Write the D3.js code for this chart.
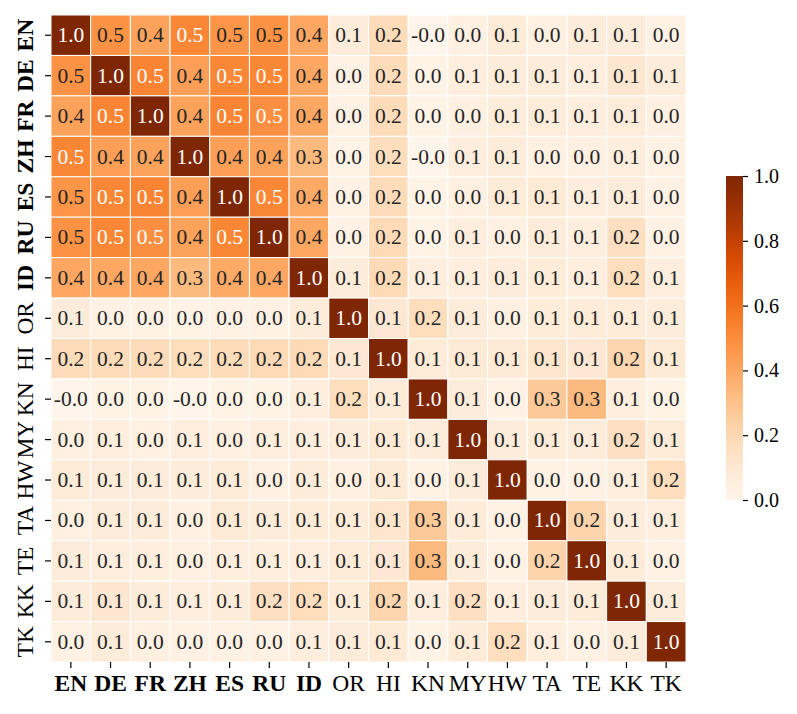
<!DOCTYPE html>
<html>
<head>
<meta charset="utf-8">
<script src="https://cdn.jsdelivr.net/npm/d3@7"></script>
<style>
  body { margin: 0; background: #fff; }
  svg { font-family: "Liberation Serif", "Times New Roman", serif; }
</style>
</head>
<body>
<svg id="chart" width="797" height="714"></svg>
<script>
// languages, first seven are drawn in bold
const langs = ["EN","DE","FR","ZH","ES","RU","ID","OR","HI","KN","MY","HW","TA","TE","KK","TK"];
const boldLangs = ["EN","DE","FR","ZH","ES","RU","ID"];

// correlation matrix, rows follow langs
const corr = [
  [ 1.00, 0.48, 0.42, 0.52, 0.47, 0.48, 0.40, 0.07, 0.18,-0.01, 0.04, 0.08, 0.04, 0.07, 0.07, 0.03],
  [ 0.48, 1.00, 0.53, 0.43, 0.52, 0.52, 0.40, 0.03, 0.18, 0.02, 0.06, 0.07, 0.07, 0.06, 0.11, 0.07],
  [ 0.42, 0.53, 1.00, 0.42, 0.53, 0.49, 0.40, 0.03, 0.18, 0.02, 0.04, 0.07, 0.07, 0.06, 0.07, 0.04],
  [ 0.52, 0.43, 0.42, 1.00, 0.43, 0.42, 0.33, 0.02, 0.17,-0.01, 0.06, 0.07, 0.04, 0.04, 0.06, 0.03],
  [ 0.47, 0.52, 0.53, 0.43, 1.00, 0.52, 0.39, 0.03, 0.18, 0.02, 0.04, 0.08, 0.09, 0.06, 0.07, 0.03],
  [ 0.48, 0.52, 0.49, 0.42, 0.52, 1.00, 0.40, 0.03, 0.19, 0.02, 0.06, 0.04, 0.07, 0.06, 0.16, 0.03],
  [ 0.40, 0.40, 0.40, 0.33, 0.39, 0.40, 1.00, 0.07, 0.19, 0.06, 0.06, 0.07, 0.08, 0.06, 0.17, 0.06],
  [ 0.07, 0.03, 0.03, 0.02, 0.03, 0.03, 0.07, 1.00, 0.10, 0.17, 0.07, 0.04, 0.08, 0.08, 0.08, 0.07],
  [ 0.18, 0.18, 0.18, 0.17, 0.18, 0.19, 0.19, 0.10, 1.00, 0.08, 0.09, 0.09, 0.12, 0.10, 0.21, 0.09],
  [-0.01, 0.02, 0.02,-0.01, 0.02, 0.02, 0.06, 0.17, 0.08, 1.00, 0.07, 0.03, 0.27, 0.33, 0.06, 0.02],
  [ 0.04, 0.06, 0.04, 0.06, 0.04, 0.06, 0.06, 0.07, 0.09, 0.07, 1.00, 0.07, 0.08, 0.07, 0.16, 0.08],
  [ 0.08, 0.07, 0.07, 0.07, 0.08, 0.04, 0.07, 0.04, 0.09, 0.03, 0.07, 1.00, 0.03, 0.03, 0.06, 0.17],
  [ 0.04, 0.07, 0.07, 0.04, 0.09, 0.07, 0.08, 0.08, 0.12, 0.27, 0.08, 0.03, 1.00, 0.22, 0.07, 0.06],
  [ 0.07, 0.06, 0.06, 0.04, 0.06, 0.06, 0.06, 0.08, 0.10, 0.33, 0.07, 0.03, 0.22, 1.00, 0.08, 0.03],
  [ 0.07, 0.11, 0.07, 0.06, 0.07, 0.16, 0.17, 0.08, 0.21, 0.06, 0.16, 0.06, 0.07, 0.08, 1.00, 0.07],
  [ 0.03, 0.07, 0.04, 0.03, 0.03, 0.03, 0.06, 0.07, 0.09, 0.02, 0.08, 0.17, 0.06, 0.03, 0.07, 1.00]
];

const cbarTicks = [0.0, 0.2, 0.4, 0.6, 0.8, 1.0];

const svg = d3.select("#chart");
const m = { left: 51, right: 686, top: 15, bottom: 662 };

const x = d3.scaleBand().domain(langs).range([m.left, m.right]);
const y = d3.scaleBand().domain(langs).range([m.top, m.bottom]);
const color = d3.scaleSequential(d3.interpolateOranges).domain([0, 1]).clamp(true);

// seaborn-like text colour: dark on light cells, white on dark ones
function lum(c) {
  const rgb = d3.rgb(c);
  const f = v => { v /= 255; return v <= 0.03928 ? v / 12.92 : Math.pow((v + 0.055) / 1.055, 2.4); };
  return 0.2126 * f(rgb.r) + 0.7152 * f(rgb.g) + 0.0722 * f(rgb.b);
}

const cells = [];
corr.forEach((row, i) => row.forEach((v, j) => cells.push({ r: langs[i], c: langs[j], v: v })));

const g = svg.append("g");
g.selectAll("rect")
  .data(cells)
  .enter().append("rect")
  .attr("x", d => x(d.c))
  .attr("y", d => y(d.r))
  .attr("width", x.bandwidth())
  .attr("height", y.bandwidth())
  .attr("fill", d => color(d.v))
  .attr("stroke", "#fff")
  .attr("stroke-width", 1);

g.selectAll("text")
  .data(cells)
  .enter().append("text")
  .attr("x", d => x(d.c) + x.bandwidth() / 2)
  .attr("y", d => y(d.r) + y.bandwidth() / 2)
  .attr("text-anchor", "middle")
  .attr("dominant-baseline", "central")
  .attr("font-size", 21.5)
  .attr("fill", d => lum(color(d.v)) > 0.408 ? "#262626" : "#fff")
  .text(d => d.v.toFixed(1));

// x axis
const xAxis = svg.append("g")
  .attr("transform", "translate(0," + m.bottom + ")")
  .call(d3.axisBottom(x).tickSize(6).tickPadding(6));
xAxis.select(".domain").remove();
xAxis.selectAll("line").attr("stroke", "#000").attr("stroke-width", 1.2);
xAxis.selectAll("text")
  .attr("font-family", "Liberation Serif")
  .attr("font-size", 23.5)
  .attr("fill", "#000")
  .attr("font-weight", d => boldLangs.includes(d) ? "bold" : "normal");

// y axis, labels rotated
const yAxis = svg.append("g")
  .attr("transform", "translate(" + m.left + ",0)")
  .call(d3.axisLeft(y).tickSize(6).tickPadding(4));
yAxis.select(".domain").remove();
yAxis.selectAll("line").attr("stroke", "#000").attr("stroke-width", 1.2);
yAxis.selectAll("text")
  .attr("font-family", "Liberation Serif")
  .attr("font-size", 23.5)
  .attr("fill", "#000")
  .attr("font-weight", d => boldLangs.includes(d) ? "bold" : "normal")
  .attr("text-anchor", "middle")
  .attr("x", null)
  .attr("dy", null)
  .attr("dominant-baseline", "central")
  .attr("transform", d => "translate(-26,0) rotate(-90)");

// colour bar
const cbX = 726, cbW = 17, cbTop = 176, cbBottom = 500;
const defs = svg.append("defs");
const grad = defs.append("linearGradient")
  .attr("id", "cbgrad")
  .attr("x1", 0).attr("y1", 1).attr("x2", 0).attr("y2", 0);
d3.range(0, 1.0001, 0.05).forEach(t => {
  grad.append("stop").attr("offset", t).attr("stop-color", color(t));
});
svg.append("rect")
  .attr("x", cbX).attr("y", cbTop)
  .attr("width", cbW).attr("height", cbBottom - cbTop)
  .attr("fill", "url(#cbgrad)");

const cbScale = d3.scaleLinear().domain([0, 1]).range([cbBottom, cbTop]);
const cbAxis = svg.append("g")
  .attr("transform", "translate(" + (cbX + cbW) + ",0)")
  .call(d3.axisRight(cbScale).tickValues(cbarTicks).tickFormat(d3.format(".1f")).tickSize(5).tickPadding(6));
cbAxis.select(".domain").remove();
cbAxis.selectAll("line").attr("stroke", "#000").attr("stroke-width", 1.2);
cbAxis.selectAll("text")
  .attr("font-family", "Liberation Serif")
  .attr("font-size", 20)
  .attr("fill", "#000");
</script>
</body>
</html>
